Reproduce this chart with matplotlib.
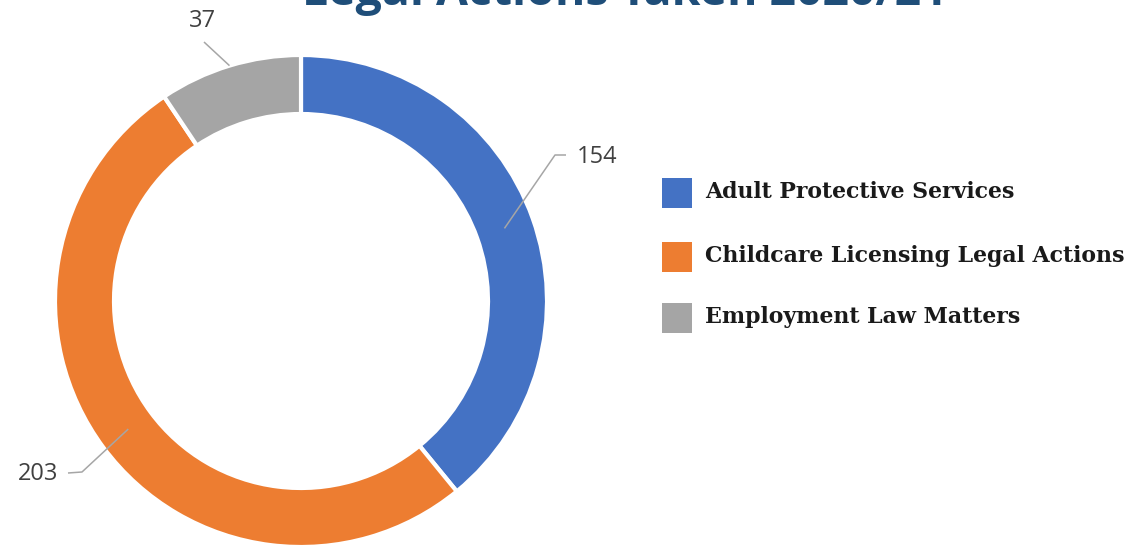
import matplotlib
matplotlib.use('Agg')
import matplotlib.pyplot as plt
import numpy as np
from matplotlib.patches import Rectangle

title = "Legal Actions Taken 2020/21"
categories = ["Adult Protective Services", "Childcare Licensing Legal Actions", "Employment Law Matters"]
values = [154, 203, 37]
colors = ["#4472C4", "#ED7D31", "#A5A5A5"]

W, H = 1133, 546
fig = plt.figure(figsize=(W / 100, H / 100), dpi=100)
ax = fig.add_axes([0, 0, 1, 1])


def Y(y):
    return H - y


cx, cy, R, ring = 301, 301, 246, 59
ax.pie(values, colors=colors, startangle=90, counterclock=False,
       center=(cx, Y(cy)), radius=R,
       wedgeprops=dict(width=ring, edgecolor='white', linewidth=3))
ax.set_xlim(0, W)
ax.set_ylim(0, H)
ax.set_aspect('equal')
ax.axis('off')

renderer = fig.canvas.get_renderer()


def fit(t, target_w):
    w = t.get_window_extent(renderer).width
    t.set_fontsize(t.get_fontsize() * target_w / w)


# Title (mostly cut off at the top, as in the reference)
tt = ax.text(302, Y(5), title, ha='left', va='baseline', fontsize=34,
             fontweight='bold', color='#1F4E79', family='Open Sans')
fit(tt, 646)

# Data labels with leader lines
total = sum(values)
cum = np.cumsum([0] + values)
mids = np.deg2rad(90 - (cum[:-1] + np.array(values) / 2) / total * 360)
leader_r = [216, 215, 246]
label_pos = [(577, 157, 'left'), (58, 474, 'right'), (202, 21, 'center')]
leader_tail = [[(555, 155), (566, 155)], [(82, 472), (68, 473)], [(204, 42)]]
for v, m, lr, (lx, ly, ha), tail in zip(values, mids, leader_r, label_pos, leader_tail):
    sx = cx + lr * np.cos(m)
    sy = Y(cy) + lr * np.sin(m)
    xs = [sx] + [p[0] for p in tail]
    ys = [sy] + [Y(p[1]) for p in tail]
    ax.plot(xs, ys, color='#A6A6A6', lw=1.1, solid_capstyle='butt')
    ax.text(lx, Y(ly), str(v), ha=ha, va='center', fontsize=17,
            color='#404040', family='Open Sans')

# Legend
sq_top = [178, 242, 303]
txt_base = [198, 262, 323]
texts = []
for cat, col, top, tb in zip(categories, colors, sq_top, txt_base):
    ax.add_patch(Rectangle((662, Y(top + 30)), 30, 30, facecolor=col, edgecolor='none'))
    t = ax.text(705, Y(tb), cat, ha='left', va='baseline', fontsize=15,
                fontweight='bold', color='#1A1A1A', family='DejaVu Serif')
    texts.append(t)
w = texts[1].get_window_extent(renderer).width
scale = 422 / w
for t in texts:
    t.set_fontsize(t.get_fontsize() * scale)

fig.savefig('out.png', dpi=100, facecolor='white')
